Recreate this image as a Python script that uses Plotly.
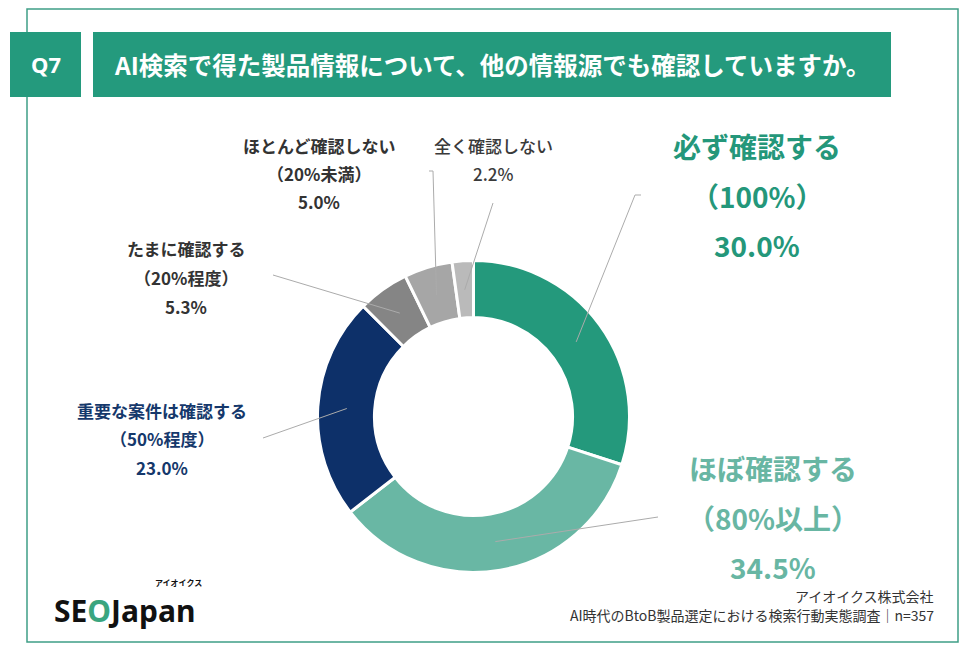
import math
import plotly.graph_objects as go

# survey answers, clockwise from 12 o'clock
labels = ["必ず確認する", "ほぼ確認する", "重要な案件は確認する", "たまに確認する", "ほとんど確認しない", "全く確認しない"]
subs = ["（100%）", "（80%以上）", "（50%程度）", "（20%程度）", "（20%未満）", ""]
values = [30.0, 34.5, 23.0, 5.3, 5.0, 2.2]
colors = ["#24997c", "#69b7a4", "#0d3069", "#858585", "#a6a6a6", "#bababa"]

title = "AI検索で得た製品情報について、他の情報源でも確認していますか。"
source1 = "アイオイクス株式会社"
source2 = "AI時代のBtoB製品選定における検索行動実態調査｜n=357"

W, H = 971, 653
FONT = "Noto Sans CJK JP"

# donut geometry in pixels
cx, cy, r = 473.5, 416.5, 156

# label blocks: centre x, first line y, line step, size, colour, weight
label_pos = [
    (757, 146, 49.5, 28, "#24977a", 700),
    (773, 468, 49.5, 28, "#68b6a3", 700),
    (162, 410, 28.5, 17, "#15386b", 700),
    (186, 248, 29, 17, "#333333", 700),
    (319, 145, 28, 17, "#333333", 700),
    (493, 145, 28, 17, "#3a3a3a", 500),
]
# outer points of the leader lines
leader_ends = [
    [(635, 195), (641, 195)],
    [(658, 517)],
    [(263, 438)],
    [(273, 275)],
    [(433, 171), (429, 171)],
    [(493, 203)],
]

fig = go.Figure()

fig.add_trace(go.Pie(
    values=values,
    labels=labels,
    sort=False,
    direction="clockwise",
    rotation=0,
    hole=0.635,
    marker=dict(colors=colors, line=dict(color="white", width=3)),
    textinfo="none",
    hoverinfo="label+value",
    showlegend=False,
    domain=dict(x=[(cx - r) / W, (cx + r) / W], y=[1 - (cy + r) / H, 1 - (cy - r) / H]),
))

# invisible pixel axes so shapes and text can be placed in px
fig.add_trace(go.Scatter(x=[0, W], y=[0, H], mode="markers", marker=dict(opacity=0),
                         hoverinfo="skip", showlegend=False))

shapes = []
annotations = []

# frame and header boxes
shapes.append(dict(type="rect", x0=27, y0=9, x1=958, y1=642, line=dict(color="#3f9f86", width=1.5)))
shapes.append(dict(type="rect", x0=10, y0=32, x1=81, y1=97, fillcolor="#249a7d", line=dict(width=0)))
shapes.append(dict(type="rect", x0=93, y0=32, x1=891, y1=97, fillcolor="#249a7d", line=dict(width=0)))
annotations.append(dict(x=45.5, y=64, text="<b>Q7</b>", showarrow=False,
                        font=dict(family="Noto Sans", size=22, color="white")))
annotations.append(dict(x=492, y=64, text="<b>" + title + "</b>", showarrow=False,
                        font=dict(family=FONT, size=24.5, color="white")))

# leader lines, starting at the middle of each slice
cum = 0
for i, v in enumerate(values):
    a = math.radians((cum + v / 2) / 100 * 360)
    cum += v
    pts = [(cx + 127 * math.sin(a), cy - 127 * math.cos(a))] + leader_ends[i]
    path = "M " + " L ".join(f"{x:.1f},{y:.1f}" for x, y in pts)
    shapes.append(dict(type="path", path=path, line=dict(color="#ababab", width=1)))

# labels
for i, v in enumerate(values):
    x0, y0, step, size, col, wt = label_pos[i]
    lines = [labels[i]] + ([subs[i]] if subs[i] else []) + [f"{v:.1f}%"]
    for k, t in enumerate(lines):
        annotations.append(dict(x=x0, y=y0 + k * step, text=t, showarrow=False,
                                font=dict(family=FONT, size=size, color=col, weight=wt)))

# logo
annotations.append(dict(x=52, y=610, xanchor="left", showarrow=False,
                        text="<b>SE<span style='color:#3aa57f'>O</span>Japan</b>",
                        font=dict(family="Noto Sans", size=30, color="#111111")))
annotations.append(dict(x=178, y=582, showarrow=False, text="<b>アイオイクス</b>",
                        font=dict(family=FONT, size=8, color="#111111")))

# source
annotations.append(dict(x=936, y=596, xanchor="right", showarrow=False, text=source1,
                        font=dict(family=FONT, size=14, color="#333333")))
annotations.append(dict(x=936, y=615, xanchor="right", showarrow=False, text=source2,
                        font=dict(family=FONT, size=14, color="#333333")))

for s in shapes:
    s.setdefault("xref", "x")
    s.setdefault("yref", "y")
    s["layer"] = "above" if s["type"] == "path" else "below"
for an in annotations:
    an["xref"] = "x"
    an["yref"] = "y"

fig.update_layout(
    width=W, height=H,
    margin=dict(l=0, r=0, t=0, b=0),
    paper_bgcolor="white",
    plot_bgcolor="rgba(0,0,0,0)",
    xaxis=dict(range=[0, W], visible=False, fixedrange=True, domain=[0, 1]),
    yaxis=dict(range=[H, 0], visible=False, fixedrange=True, domain=[0, 1]),
    shapes=shapes,
    annotations=annotations,
)

# the page's default body margin would push the figure 8px off
fig.write_html("out.html", config={"displayModeBar": False},
               post_script="document.body.style.margin='0px';")
